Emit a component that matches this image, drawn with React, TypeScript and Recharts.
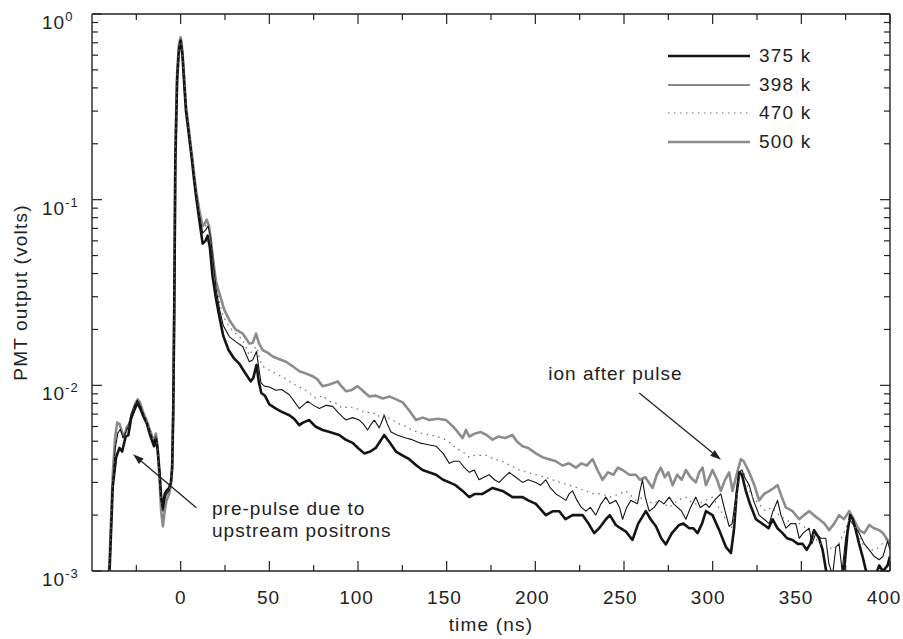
import React from "react";
import {
  LineChart,
  Line,
  XAxis,
  YAxis,
  Legend,
  ReferenceLine,
  ReferenceDot,
} from "recharts";

// PMT output vs time for four settings (volts)
const s375: [number, number][] = [
  [-41, 0.0008], [-40, 0.00105], [-38.3, 0.00285], [-36.4, 0.0041], [-34.5, 0.0046], [-33, 0.0044],
  [-31, 0.0053], [-29.5, 0.0054], [-28, 0.0066], [-26, 0.0074], [-24.5, 0.008], [-23, 0.0076],
  [-21, 0.0068], [-19, 0.0062], [-17.5, 0.0055], [-16, 0.005], [-15, 0.0047], [-14, 0.0052],
  [-13, 0.0045], [-12, 0.0035], [-11, 0.0025], [-10, 0.0022], [-9, 0.0026], [-8, 0.0027],
  [-6.5, 0.0028], [-5.5, 0.003], [-4.8, 0.0036], [-4.2, 0.007], [-3.6, 0.026], [-3, 0.16],
  [-2, 0.44], [-1, 0.64], [0, 0.72], [1, 0.6], [2, 0.42], [3, 0.3], [4.5, 0.23], [6, 0.175],
  [7.5, 0.13], [8.7, 0.104], [10.5, 0.078], [12.4, 0.058], [14, 0.06], [15.2, 0.064], [16.5, 0.055],
  [18, 0.0385], [20, 0.029], [22, 0.023], [24, 0.0185], [27, 0.0155], [30, 0.014], [33, 0.0131],
  [36, 0.0118], [39.5, 0.0105], [41, 0.011], [42.8, 0.0129], [44, 0.0105], [45.5, 0.0091],
  [47.5, 0.0088], [50, 0.0079], [53.7, 0.0075], [57, 0.0072], [61.3, 0.0069], [64, 0.0066],
  [66.9, 0.0061], [69, 0.0063], [72.5, 0.0065], [76, 0.006], [80, 0.00575], [84, 0.0056],
  [89.4, 0.0054], [93, 0.0051], [97, 0.0049], [100, 0.0046], [103.5, 0.0043], [107, 0.0044],
  [110, 0.0046], [114.8, 0.0054], [118, 0.0049], [121.4, 0.0044], [125, 0.0042], [128.9, 0.004],
  [133, 0.0037], [136.4, 0.0035], [140, 0.0034], [144, 0.0033], [148, 0.0031], [151.5, 0.003],
  [155, 0.0029], [159, 0.0027], [162.7, 0.0025], [166, 0.0026], [170.2, 0.0026], [175.9, 0.0028],
  [181.5, 0.0027], [187.1, 0.0025], [192.8, 0.0025], [196, 0.0024], [200.3, 0.0023], [205.9, 0.002],
  [210, 0.0021], [213.5, 0.0021], [217, 0.0019], [221, 0.002], [226.6, 0.002], [230, 0.0018],
  [233.2, 0.0016], [236, 0.0017], [239.8, 0.0019], [242, 0.002], [245.4, 0.00177], [248, 0.0017],
  [251.1, 0.00163], [254.8, 0.00147], [258, 0.0018], [262.3, 0.0021], [265, 0.0019], [268, 0.00174],
  [271, 0.0015], [273.6, 0.00139], [277, 0.0016], [281.1, 0.00177], [283.5, 0.0018], [286.8, 0.0017],
  [289, 0.0017], [291.5, 0.0016], [294, 0.0018], [296.2, 0.0021], [299.9, 0.002], [303.7, 0.00166],
  [307.4, 0.00135], [310.3, 0.00125], [312.1, 0.0017], [313.5, 0.0026], [315, 0.0034], [316.5, 0.0033],
  [318.7, 0.0027], [321, 0.0023], [324.4, 0.0019], [329, 0.00177], [331.5, 0.0017], [333.8, 0.0019],
  [336.5, 0.0017], [339.4, 0.0016], [342, 0.0015], [345, 0.00147], [348, 0.0014], [350.7, 0.0014],
  [353, 0.0013], [355, 0.0014], [357.2, 0.00166], [360, 0.0015], [362, 0.0013], [364, 0.001],
  [365.7, 0.0009], [368, 0.0009], [370.4, 0.00095], [372.5, 0.0009], [374.5, 0.0011], [376, 0.0016],
  [377.5, 0.002], [379, 0.0019], [380.7, 0.00166], [382.6, 0.0014], [384.5, 0.0012], [386.5, 0.001],
  [388.3, 0.0009], [391, 0.0009], [393.9, 0.00107], [396, 0.001], [398.6, 0.00107], [400, 0.0012],
];

const s398: [number, number][] = [
  [-41, 0.0008], [-40, 0.0011], [-38.3, 0.003], [-37, 0.0045], [-35.5, 0.0055], [-34, 0.0058],
  [-32.5, 0.0052], [-31, 0.0056], [-29.5, 0.006], [-28, 0.007], [-26, 0.0078], [-24.5, 0.0083],
  [-23, 0.0079], [-21, 0.007], [-19, 0.0062], [-17.5, 0.0057], [-16, 0.0052], [-15, 0.0049],
  [-14, 0.0053], [-13, 0.0046], [-12, 0.0034], [-11, 0.0024], [-10, 0.0021], [-9, 0.0024],
  [-8, 0.0026], [-6.5, 0.0027], [-5.5, 0.003], [-4.8, 0.0036], [-4.2, 0.0072], [-3.6, 0.028],
  [-3, 0.17], [-2, 0.46], [-1, 0.66], [0, 0.73], [1, 0.61], [2, 0.43], [3, 0.31], [4.5, 0.235],
  [6, 0.18], [7.5, 0.135], [8.7, 0.108], [10.5, 0.083], [12.4, 0.066], [14.2, 0.069], [15.5, 0.072],
  [17, 0.062], [18.5, 0.045], [20, 0.033], [22, 0.0255], [24, 0.021], [27.4, 0.0183], [31, 0.0172],
  [35, 0.0162], [38.7, 0.0134], [40.6, 0.0137], [42.8, 0.0152], [44, 0.0125], [45.3, 0.0103],
  [47.2, 0.0099], [50, 0.0098], [53.7, 0.0094], [57, 0.0095], [61.3, 0.0089], [64, 0.0082],
  [66.9, 0.0075], [69, 0.0078], [71.6, 0.0082], [75, 0.0078], [78.2, 0.0075], [82, 0.0078],
  [85.7, 0.0077], [89, 0.0071], [93.2, 0.0065], [97, 0.0067], [100.7, 0.0065], [103, 0.0062],
  [105.4, 0.00575], [107.5, 0.0062], [109.2, 0.0065], [112, 0.0059], [114.8, 0.0069], [116.5, 0.0062],
  [118.6, 0.0056], [122, 0.0054], [127, 0.0052], [130.5, 0.0051], [134.6, 0.0049], [139, 0.0048],
  [144, 0.0047], [148, 0.0043], [151.5, 0.0038], [154, 0.0039], [157.1, 0.0039], [160, 0.0036],
  [162.8, 0.0034], [165.5, 0.0035], [168.3, 0.0031], [171, 0.0032], [174, 0.0033], [177, 0.0031],
  [179.6, 0.003], [182.5, 0.0032], [185.3, 0.0034], [189, 0.0032], [192.8, 0.003], [196, 0.0031],
  [200.3, 0.003], [203, 0.0029], [205.9, 0.0031], [208.5, 0.0028], [211.6, 0.0026], [214.5, 0.0025],
  [217.2, 0.0024], [219, 0.0026], [221, 0.0027], [223.5, 0.0024], [226, 0.0022], [228.5, 0.0021],
  [231, 0.0022], [234.1, 0.002], [237, 0.0023], [239.8, 0.0025], [242, 0.0023], [245.4, 0.0024],
  [247.5, 0.0022], [249.2, 0.0019], [251.5, 0.0022], [253.9, 0.0024], [257.6, 0.0023], [259, 0.0027],
  [260.4, 0.0031], [262, 0.0025], [264.2, 0.0021], [267, 0.0022], [269.8, 0.0024], [272.5, 0.0023],
  [275.5, 0.0025], [278, 0.0023], [280.2, 0.0022], [282.5, 0.0021], [284.9, 0.0019], [287.5, 0.0022],
  [290.5, 0.0025], [293, 0.0022], [296.2, 0.0023], [298, 0.0022], [301, 0.0024], [304.6, 0.0026],
  [307, 0.0021], [309.3, 0.00174], [311, 0.0018], [313, 0.0025], [315, 0.0034], [316.5, 0.0035],
  [318, 0.0032], [320.6, 0.0029], [323, 0.0024], [326.2, 0.002], [329, 0.0019], [331.9, 0.0018],
  [334, 0.0021], [336.6, 0.0024], [338.5, 0.002], [341.3, 0.0017], [344, 0.0018], [346.9, 0.0018],
  [348.8, 0.0015], [351, 0.0016], [354.4, 0.0017], [356, 0.0014], [358.2, 0.0016], [361, 0.0015],
  [363.8, 0.0015], [365.5, 0.0011], [367.6, 0.00095], [369.5, 0.00135], [371.3, 0.0014], [373, 0.001],
  [375, 0.0015], [377, 0.0019], [379, 0.0018], [382.6, 0.0016], [385.5, 0.0014], [388.3, 0.0013],
  [391, 0.0012], [393.9, 0.00115], [396, 0.0012], [398.6, 0.00145], [400, 0.0013],
];

const s470: [number, number][] = [
  [-41, 0.0008], [-40, 0.0011], [-38.3, 0.003], [-37, 0.0047], [-35.5, 0.0057], [-34, 0.0059],
  [-32.5, 0.0054], [-31, 0.0057], [-29.5, 0.0061], [-28, 0.0071], [-26, 0.0079], [-24.5, 0.0085],
  [-23, 0.008], [-21, 0.0071], [-19, 0.0063], [-17.5, 0.0057], [-16, 0.0052], [-15, 0.005],
  [-14, 0.0054], [-13, 0.0046], [-12, 0.0033], [-11, 0.0022], [-10, 0.0019], [-9, 0.0022],
  [-8, 0.0025], [-6.5, 0.0027], [-5.5, 0.003], [-4.8, 0.0036], [-4.2, 0.0074], [-3.6, 0.029],
  [-3, 0.175], [-2, 0.47], [-1, 0.67], [0, 0.74], [1, 0.62], [2, 0.44], [3, 0.315], [4.5, 0.24],
  [6, 0.183], [7.5, 0.138], [8.7, 0.11], [10.5, 0.085], [12.4, 0.069], [14.5, 0.073], [15.5, 0.075],
  [17, 0.065], [18.5, 0.048], [20, 0.036], [22, 0.028], [24, 0.0235], [27.4, 0.0207], [31, 0.019],
  [35, 0.0176], [38.7, 0.0145], [40.6, 0.0155], [42.8, 0.0162], [45, 0.0135], [47, 0.0125],
  [50, 0.0121], [54, 0.0115], [58, 0.011], [61.3, 0.0105], [65, 0.01], [69, 0.0096], [72, 0.0092],
  [76.3, 0.0085], [80, 0.0088], [84, 0.0082], [87.6, 0.008], [91.3, 0.0075], [95, 0.0077],
  [100.7, 0.0074], [104, 0.0071], [108, 0.0072], [111, 0.0068], [113.9, 0.007], [118, 0.0066],
  [123.3, 0.0062], [127, 0.006], [131, 0.0057], [136.4, 0.0055], [141, 0.0054], [147.7, 0.0052],
  [152, 0.0049], [155, 0.0046], [159, 0.0044], [162.7, 0.0041], [166, 0.0042], [172.1, 0.0042],
  [177, 0.004], [181.5, 0.0039], [186, 0.0037], [190.9, 0.0035], [195, 0.0034], [200.3, 0.0033],
  [205, 0.0032], [209.7, 0.0031], [214, 0.003], [219.1, 0.0029], [224, 0.0028], [228.5, 0.0027],
  [233, 0.0026], [237.9, 0.0026], [242, 0.0025], [247.3, 0.0026], [251, 0.0027], [256.7, 0.0024],
  [261, 0.0025], [266.1, 0.0023], [270, 0.0024], [275.5, 0.0022], [280, 0.0024], [284.9, 0.0025],
  [289, 0.0023], [292.4, 0.0023], [296, 0.0024], [299.9, 0.0025], [303.5, 0.0022], [307.4, 0.0019],
  [311.2, 0.0017], [313.5, 0.0025], [315.9, 0.0035], [318, 0.0033], [320, 0.0028], [322.5, 0.0025],
  [326, 0.0023], [330, 0.0021], [333, 0.0022], [337.5, 0.002], [341, 0.0019], [345, 0.0018],
  [349, 0.0018], [352.6, 0.0017], [356, 0.0016], [360, 0.0014], [364, 0.0014], [367.6, 0.0013],
  [371, 0.0014], [374, 0.0016], [377, 0.0019], [380.5, 0.0017], [384.5, 0.0014], [388, 0.0013],
  [392, 0.0013], [395.5, 0.0014], [398.6, 0.0015], [400, 0.0015],
];

const s500: [number, number][] = [
  [-41, 0.0008], [-40, 0.0012], [-38.3, 0.0033], [-37, 0.0052], [-35.8, 0.0063], [-34.5, 0.0062],
  [-33, 0.0056], [-31.7, 0.0053], [-30.3, 0.006], [-28.9, 0.0062], [-27, 0.0072], [-25.5, 0.008],
  [-24.2, 0.0084], [-23, 0.0081], [-21, 0.0071], [-19, 0.0064], [-17.5, 0.0058], [-16, 0.0053],
  [-15, 0.0051], [-14, 0.0055], [-13, 0.0047], [-12, 0.0032], [-11, 0.0021], [-10, 0.00174],
  [-9, 0.0021], [-8, 0.0024], [-6.5, 0.0026], [-5.5, 0.0029], [-4.8, 0.0036], [-4.2, 0.0075],
  [-3.6, 0.03], [-3, 0.18], [-2, 0.48], [-1, 0.68], [0, 0.75], [1, 0.63], [2, 0.45], [3, 0.32],
  [4.5, 0.245], [6, 0.185], [7.5, 0.14], [8.7, 0.112], [10.5, 0.088], [12.4, 0.072], [13.5, 0.074],
  [14.7, 0.078], [16, 0.072], [17.5, 0.055], [19, 0.042], [20, 0.036], [22, 0.031], [24.6, 0.0255],
  [27.4, 0.0225], [31, 0.02], [35, 0.019], [38.7, 0.0168], [40.6, 0.0169], [42.5, 0.019], [44, 0.017],
  [46.2, 0.0155], [49, 0.015], [51.9, 0.0143], [55, 0.0139], [59.4, 0.0134], [63, 0.0127],
  [66.9, 0.0119], [70.5, 0.0116], [74.4, 0.0112], [77, 0.0108], [80, 0.0099], [84, 0.0101],
  [88.5, 0.0105], [91, 0.0098], [93.2, 0.0093], [96, 0.0094], [99.8, 0.0099], [103, 0.0093],
  [106.4, 0.0087], [110, 0.0088], [113.9, 0.0085], [118, 0.0087], [121.5, 0.0084], [125.2, 0.0081],
  [129, 0.0073], [132.7, 0.0065], [136.5, 0.0067], [140.2, 0.0065], [145, 0.0066], [149.6, 0.0065],
  [152, 0.0062], [155, 0.0058], [159, 0.0052], [160.9, 0.00575], [162.7, 0.0053], [166, 0.0055],
  [169.3, 0.0056], [172.5, 0.0054], [175.9, 0.0051], [179, 0.0053], [183, 0.0052], [187.1, 0.0054],
  [189.5, 0.005], [192.8, 0.0047], [196, 0.0046], [200.3, 0.0043], [204, 0.0041], [207.8, 0.004],
  [211.5, 0.0039], [215.3, 0.0037], [219, 0.0038], [222.9, 0.0036], [226, 0.0038], [229, 0.0037],
  [232.3, 0.004], [235, 0.0035], [237.9, 0.0031], [241, 0.0034], [244, 0.0033], [246.5, 0.0036],
  [249.2, 0.0035], [253, 0.0033], [256.7, 0.0033], [259, 0.0031], [262, 0.0032], [264, 0.003],
  [266.1, 0.0028], [268.5, 0.0033], [270.8, 0.0036], [273, 0.0032], [275, 0.0034], [277.4, 0.0029],
  [280, 0.0033], [282.5, 0.0031], [284.9, 0.0035], [287.5, 0.0032], [290.5, 0.003], [292.4, 0.0034],
  [294.3, 0.0036], [296.2, 0.0029], [299.9, 0.0035], [302.5, 0.0031], [304.6, 0.0027], [307, 0.0031],
  [309.3, 0.0034], [311.2, 0.0027], [313.5, 0.0033], [315.9, 0.004], [317.5, 0.0039], [320.6, 0.0034],
  [323.5, 0.0029], [326.2, 0.0024], [329, 0.0026], [332, 0.0027], [334.5, 0.0028], [336.6, 0.0029],
  [339, 0.0025], [341.3, 0.0022], [345, 0.0021], [348.8, 0.0019], [351.5, 0.002], [354.4, 0.0021],
  [357, 0.002], [360, 0.0019], [363, 0.0018], [365.7, 0.00166], [368.5, 0.0018], [371.3, 0.002],
  [374, 0.0019], [377, 0.0021], [379.5, 0.0019], [382.6, 0.00166], [385.5, 0.0016], [388.3, 0.00177],
  [391, 0.0017], [393.9, 0.00166], [396, 0.0016], [398.6, 0.00147], [400, 0.0014],
];

const xTicks = [-25, 0, 25, 50, 75, 100, 125, 150, 175, 200, 225, 250, 275, 300, 325, 350, 375, 400];
const yTicks = [
  0.001, 0.002, 0.003, 0.004, 0.005, 0.006, 0.007, 0.008, 0.009,
  0.01, 0.02, 0.03, 0.04, 0.05, 0.06, 0.07, 0.08, 0.09,
  0.1, 0.2, 0.3, 0.4, 0.5, 0.6, 0.7, 0.8, 0.9, 1,
];

// annotations, in data coordinates
const ionArrow = [{ x: 258.6, y: 0.0091 }, { x: 304.7, y: 0.00397 }];
const preArrow = [{ x: 8.85, y: 0.00219 }, { x: -26.9, y: 0.00426 }];
const ionText = { x: 207.3, y: 0.0107, lines: ["ion after pulse"] };
const preText = { x: 17.7, y: 0.002005, lines: ["pre-pulse due to", "upstream positrons"] };

const FONT = '"Liberation Sans", Arial, Helvetica, sans-serif';
const INK = "#222";

const series = [
  { key: "500", name: "500 k", data: s500, stroke: "#8c8c8c", width: 2.6, dash: undefined },
  { key: "375", name: "375 k", data: s375, stroke: "#141414", width: 2.6, dash: undefined },
  { key: "398", name: "398 k", data: s398, stroke: "#141414", width: 1.1, dash: undefined },
  { key: "470", name: "470 k", data: s470, stroke: "#6e6e6e", width: 1.2, dash: "1.5 4.5" },
];
const legendOrder = ["375", "398", "470", "500"];

const isMajorY = (v: number) => {
  const e = Math.log10(v);
  return Math.abs(e - Math.round(e)) < 1e-6;
};

function BottomTick(props: any) {
  const { x, y, payload } = props;
  const major = payload.value % 50 === 0;
  // labels in the reference sit a touch left of their ticks, more so to the right
  const shift = -Math.max(0, payload.value) * 0.015;
  return (
    <g>
      <line x1={x} x2={x} y1={y} y2={y - (major ? 10 : 6)} stroke={INK} strokeWidth={1.2} />
      {major && (
        <text x={x + shift} y={y + 33} textAnchor="middle" fontSize={19} fill={INK} fontFamily={FONT} letterSpacing={1}>
          {payload.value}
        </text>
      )}
    </g>
  );
}

function TopTick(props: any) {
  const { x, y, payload } = props;
  const major = payload.value % 50 === 0;
  return <line x1={x} x2={x} y1={y} y2={y + (major ? 10 : 6)} stroke={INK} strokeWidth={1.2} />;
}

function LeftTick(props: any) {
  const { x, y, payload } = props;
  const major = isMajorY(payload.value);
  return (
    <g>
      <line x1={x} x2={x + (major ? 10 : 6)} y1={y} y2={y} stroke={INK} strokeWidth={1.2} />
      {major && (
        <text x={x - 50} y={y + 15} fontSize={19} fill={INK} fontFamily={FONT} letterSpacing={1}>
          10
          <tspan dy={-8} fontSize={13}>
            {Math.round(Math.log10(payload.value))}
          </tspan>
        </text>
      )}
    </g>
  );
}

function RightTick(props: any) {
  const { x, y, payload } = props;
  const major = isMajorY(payload.value);
  return <line x1={x} x2={x - (major ? 10 : 6)} y1={y} y2={y} stroke={INK} strokeWidth={1.2} />;
}

function Arrow(p: any) {
  const { x1, y1, x2, y2 } = p;
  const dx = x2 - x1;
  const dy = y2 - y1;
  const len = Math.hypot(dx, dy) || 1;
  const ux = dx / len;
  const uy = dy / len;
  const hl = 11;
  const hw = 3.6;
  const bx = x2 - ux * hl;
  const by = y2 - uy * hl;
  return (
    <g>
      <line x1={x1} y1={y1} x2={bx} y2={by} stroke={INK} strokeWidth={1.3} />
      <polygon
        points={`${x2},${y2} ${bx - uy * hw},${by + ux * hw} ${bx + uy * hw},${by - ux * hw}`}
        fill={INK}
      />
    </g>
  );
}

const textShape = (lines: string[]) => (p: any) => (
  <text x={p.cx} y={p.cy} fontSize={19} fill={INK} fontFamily={FONT} letterSpacing={1}>
    {lines.map((l, i) => (
      <tspan key={l} x={p.cx} dy={i === 0 ? 0 : 22}>
        {l}
      </tspan>
    ))}
  </text>
);

function LegendBox() {
  return (
    <div style={{ fontFamily: FONT, color: INK }}>
      {legendOrder.map((k) => {
        const s = series.find((d) => d.key === k)!;
        return (
          <div key={k} style={{ height: 28.5, display: "flex", alignItems: "center" }}>
            <svg width={92} height={10} style={{ display: "block" }}>
              <line x1={8} x2={90} y1={5} y2={5} stroke={s.stroke} strokeWidth={s.width} strokeDasharray={s.dash} />
            </svg>
            <span style={{ marginLeft: 7, fontSize: 19, letterSpacing: 1.2, lineHeight: "20px" }}>{s.name}</span>
          </div>
        );
      })}
    </div>
  );
}

export default function App() {
  return (
    <div style={{ position: "absolute", left: 0, top: 0, width: 903, height: 639, background: "#fff" }}>
      <LineChart width={903} height={639} margin={{ top: 0, right: 0, bottom: 0, left: 0 }}>
        <XAxis
          xAxisId="b"
          type="number"
          dataKey="t"
          domain={[-50, 400]}
          allowDataOverflow
          ticks={xTicks}
          interval={0}
          tick={<BottomTick />}
          tickSize={0}
          tickMargin={0}
          tickLine={false}
          axisLine={{ stroke: INK, strokeWidth: 1.4 }}
          height={68}
          label={{
            value: "time (ns)",
            position: "insideBottom",
            offset: 8,
            style: { fontSize: 19, fill: INK, fontFamily: FONT, letterSpacing: 1.2 },
          }}
        />
        <XAxis
          xAxisId="t"
          orientation="top"
          type="number"
          dataKey="t"
          domain={[-50, 400]}
          allowDataOverflow
          ticks={xTicks}
          interval={0}
          tick={<TopTick />}
          tickSize={0}
          tickMargin={0}
          tickLine={false}
          axisLine={{ stroke: INK, strokeWidth: 1.4 }}
          height={14}
        />
        <YAxis
          yAxisId="l"
          scale="log"
          type="number"
          domain={[0.001, 1]}
          allowDataOverflow
          ticks={yTicks}
          interval={0}
          tick={<LeftTick />}
          tickSize={0}
          tickMargin={0}
          tickLine={false}
          axisLine={{ stroke: INK, strokeWidth: 1.4 }}
          width={92}
          label={{
            value: "PMT output (volts)",
            angle: -90,
            position: "insideLeft",
            offset: 20,
            style: { fontSize: 19, fill: INK, fontFamily: FONT, letterSpacing: 1.2, textAnchor: "middle" },
          }}
        />
        <YAxis
          yAxisId="r"
          orientation="right"
          scale="log"
          type="number"
          domain={[0.001, 1]}
          allowDataOverflow
          ticks={yTicks}
          interval={0}
          tick={<RightTick />}
          tickSize={0}
          tickMargin={0}
          tickLine={false}
          axisLine={{ stroke: INK, strokeWidth: 1.4 }}
          width={13}
        />
        {series.map((s) => (
          <Line
            key={s.key}
            xAxisId="b"
            yAxisId="l"
            data={s.data.map(([t, v]) => ({ t, v }))}
            dataKey="v"
            name={s.name}
            type="linear"
            stroke={s.stroke}
            strokeWidth={s.width}
            strokeDasharray={s.dash}
            strokeLinejoin="round"
            dot={false}
            activeDot={false}
            isAnimationActive={false}
          />
        ))}
        <ReferenceLine xAxisId="b" yAxisId="l" segment={ionArrow} shape={Arrow} ifOverflow="visible" />
        <ReferenceLine xAxisId="b" yAxisId="l" segment={preArrow} shape={Arrow} ifOverflow="visible" />
        <ReferenceDot xAxisId="b" yAxisId="l" x={ionText.x} y={ionText.y} r={0} shape={textShape(ionText.lines)} ifOverflow="visible" />
        <ReferenceDot xAxisId="b" yAxisId="l" x={preText.x} y={preText.y} r={0} shape={textShape(preText.lines)} ifOverflow="visible" />
        <Legend
          layout="vertical"
          align="center"
          verticalAlign="middle"
          content={() => <LegendBox />}
          wrapperStyle={{ top: 42, left: 660, right: "auto", bottom: "auto", width: 180, height: 120 }}
        />
      </LineChart>
    </div>
  );
}
